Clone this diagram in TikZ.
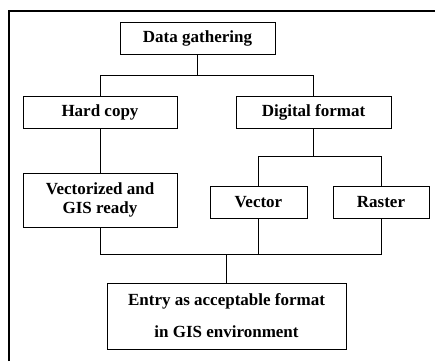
\documentclass[tikz,border=0pt]{standalone}
\usepackage{fontspec}
\setmainfont{Liberation Serif}
\usetikzlibrary{calc}

\begin{document}
\begin{tikzpicture}[x=1pt, y=-1pt, line width=0.8pt,
  box/.style={draw, align=center, inner sep=0pt,
    font=\fontsize{17}{19.5}\selectfont\bfseries}]
\useasboundingbox (0,0) rectangle (435,361);
% outer frame
\draw[line width=1.3pt] (9,361)--(9,11)--(435,11);
% boxes
\node[box, minimum width=155, minimum height=32] (gather) at (197.5,38) {Data gathering};
\node[box, minimum width=154, minimum height=32] (hard) at (100,112) {Hard copy};
\node[box, minimum width=155, minimum height=32] (digital) at (313.5,112) {Digital format};
\node[box, minimum width=154, minimum height=54] (vectorized) at (100,200) {Vectorized and\\GIS ready};
\node[box, minimum width=97, minimum height=32] (vector) at (258.5,202) {Vector};
\node[box, minimum width=96, minimum height=32] (raster) at (381,202) {Raster};
\node[box, minimum width=239, minimum height=66,
  font=\fontsize{17}{32}\selectfont\bfseries] (entry) at (226.5,316)
  {Entry as acceptable format\\in GIS environment};
% connectors
\draw (gather.south) -- ++(0,21) -| (hard.north);
\draw (gather.south) -- ++(0,21) -| (digital.north);
\draw (hard.south) -- (vectorized.north);
\draw (digital.south) -- ++(0,28) -| (vector.north);
\draw (digital.south) -- ++(0,28) -| (raster.north);
\draw (entry.north) -- ++(0,-28) coordinate (join);
\draw (vectorized.south) |- (raster.south |- join) -- (raster.south);
\draw (vector.south) -- (vector.south |- join);
\end{tikzpicture}
\end{document}
